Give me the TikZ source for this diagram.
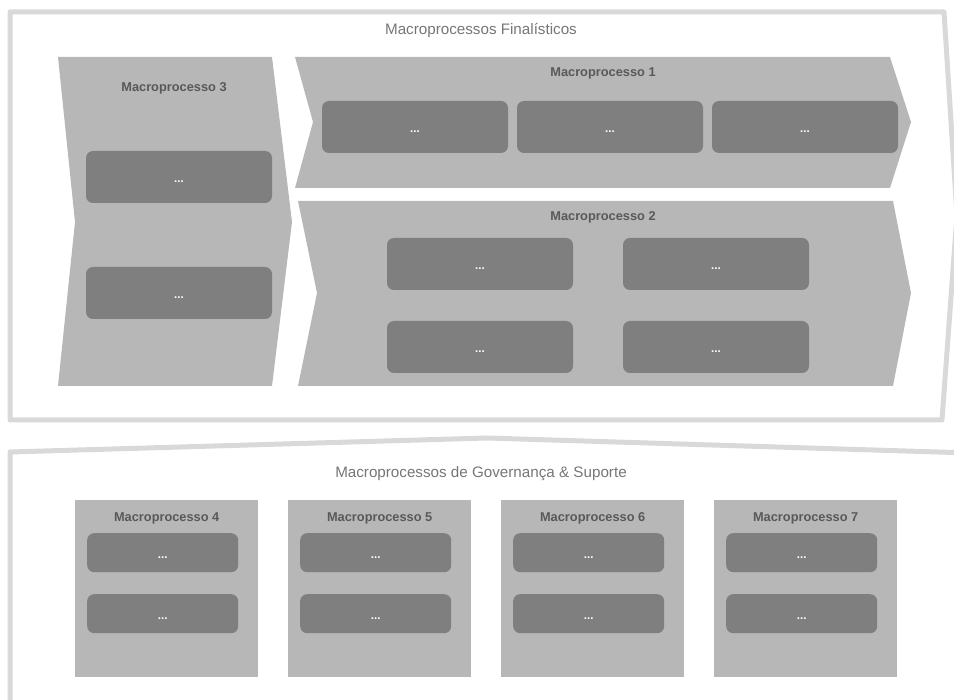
\documentclass[tikz,border=0pt]{standalone}
\usepackage{fontspec}
\setmainfont{Liberation Sans}
\definecolor{framegray}{HTML}{D9D9D9}
\definecolor{lightfill}{HTML}{B7B7B7}
\definecolor{darkfill}{HTML}{7F7F7F}
\definecolor{titlegray}{HTML}{595959}
\definecolor{headgray}{HTML}{767676}
\newcommand{\itemdots}{\raisebox{-5.5pt}[0pt][0pt]{...}}
\tikzset{
  frameline/.style={draw=framegray, line width=5pt, line join=round},
  chevron/.style={fill=lightfill, draw=none},
  mpbox/.style={fill=lightfill, draw=none, minimum width=183pt, minimum height=177pt, inner sep=0pt},
  mptitle/.style={text=titlegray, font=\fontsize{12.8}{14}\selectfont\bfseries, inner sep=0pt},
  headtitle/.style={text=headgray, font=\fontsize{15.2}{17}\selectfont, inner sep=0pt},
  itembox/.style={fill=darkfill, draw=none, rounded corners=7pt, text=white,
    font=\fontsize{11.5}{12}\selectfont\bfseries, inner sep=0pt},
  bigitem/.style={itembox, minimum width=186pt, minimum height=52pt},
  smallitem/.style={itembox, minimum width=151pt, minimum height=39pt}
}
\begin{document}
\begin{tikzpicture}[x=1pt, y=-1pt]
  \useasboundingbox (0,0) rectangle (954,700);
  \clip (0,0) rectangle (954,700);

  % outer frame of the core processes (chevron pointing right)
  \draw[frameline] (10,12) -- (944,12) -- (957,215) -- (942,420) -- (10,420) -- cycle;
  \node[headtitle] (fintitle) at (481,30) {Macroprocessos Finalísticos};

  % Macroprocesso 3
  \fill[chevron] (58,57) -- (272,57) -- (292,222) -- (272,386) -- (58,386) -- (75,222) -- cycle;
  \node[mptitle] (t3) at (174,88) {Macroprocesso 3};
  \node[bigitem] (b31) at (179,177) {\itemdots};
  \node[bigitem] (b32) at (179,293) {\itemdots};

  % Macroprocesso 1
  \fill[chevron] (295,57) -- (890,57) -- (911,122) -- (890,188) -- (295,188) -- (313,122) -- cycle;
  \node[mptitle] (t1) at (603,73) {Macroprocesso 1};
  \node[bigitem] (b11) at (415,127) {\itemdots};
  \node[bigitem] (b12) at (610,127) {\itemdots};
  \node[bigitem] (b13) at (805,127) {\itemdots};

  % Macroprocesso 2
  \fill[chevron] (298,201) -- (893,201) -- (911,293) -- (893,386) -- (298,386) -- (317,293) -- cycle;
  \node[mptitle] (t2) at (603,217) {Macroprocesso 2};
  \node[bigitem] (b21) at (480,264) {\itemdots};
  \node[bigitem] (b22) at (716,264) {\itemdots};
  \node[bigitem] (b23) at (480,347) {\itemdots};
  \node[bigitem] (b24) at (716,347) {\itemdots};

  % frame of governance and support processes (roof shape)
  \draw[frameline] (10,710) -- (10,452) -- (487,438) -- (970,453);
  \node[headtitle] (govtitle) at (481,474) {Macroprocessos de Governança \& Suporte};

  % Macroprocessos 4 to 7
  \foreach \n/\x in {4/75, 5/288, 6/501, 7/714} {
    \node[mpbox, anchor=north west] (m\n) at (\x,500) {};
    \node[mptitle] (t\n) at (m\n.north) [yshift=-18pt] {Macroprocesso \n};
    \node[smallitem, anchor=north west] (s\n a) at (\x+12,533) {\itemdots};
    \node[smallitem, anchor=north west] (s\n b) at (\x+12,594) {\itemdots};
  }
\end{tikzpicture}
\end{document}
